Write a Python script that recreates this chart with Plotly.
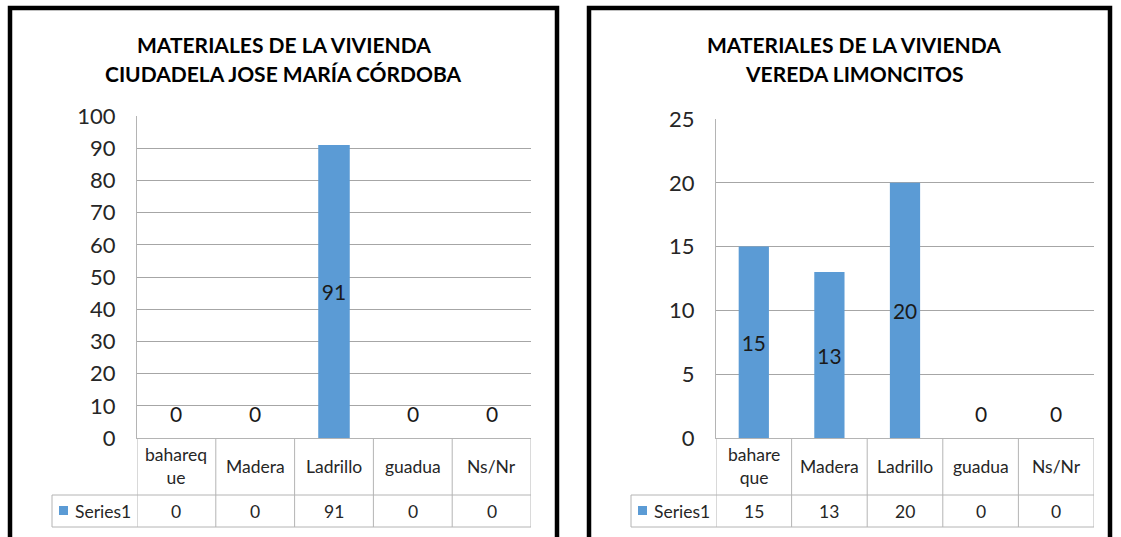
import plotly.graph_objects as go

W, H = 1121, 537

categorias = ["bahareque", "Madera", "Ladrillo", "guadua", "Ns/Nr"]
etiquetas_izq = ["bahareq<br>ue", "Madera", "Ladrillo", "guadua", "Ns/Nr"]
etiquetas_der = ["bahare<br>que", "Madera", "Ladrillo", "guadua", "Ns/Nr"]
valores_ciudadela = [0, 0, 91, 0, 0]
valores_limoncitos = [15, 13, 20, 0, 0]
titulo_izq = ["MATERIALES DE LA VIVIENDA", "CIUDADELA JOSE MARÍA CÓRDOBA"]
titulo_der = ["MATERIALES DE LA VIVIENDA", "VEREDA LIMONCITOS"]
serie = "Series1"

BLUE = "#5B9BD5"
GRID = "#a6a6a6"
TABLE = "#b4b4b4"
TXT = "#262626"
FONT = "Lato, 'Open Sans', sans-serif"


def px(x):
    return x / W


def py(y):
    return 1 - y / H


fig = go.Figure()
shapes, annots = [], []

paneles = [
    # values, tick labels, titles, axis suffix, frame, plot box, table left, ymax, dtick
    (valores_ciudadela, etiquetas_izq, titulo_izq, "", (10, 557), (137, 531, 116), 52, 100, 10),
    (valores_limoncitos, etiquetas_der, titulo_der, "2", (589, 1110), (716, 1094, 119), 631, 25, 5),
]

for vals, etiq, titulo, sfx, (fx0, fx1), (x0, x1, ytop), tleft, ymax, dt in paneles:
    xa, ya = "x" + sfx, "y" + sfx
    fig.add_trace(go.Bar(
        x=categorias, y=vals, xaxis=xa, yaxis=ya, width=0.4,
        marker=dict(color=BLUE, line=dict(width=0)),
        text=[str(v) if v else "" for v in vals],
        textposition="inside", insidetextanchor="middle",
        textfont=dict(family=FONT, size=21, color="#1a1a1a"),
        showlegend=False, cliponaxis=False,
    ))
    lay = {
        "xaxis" + sfx: dict(domain=[px(x0), px(x1)], anchor=ya, showticklabels=False,
                            showgrid=False, showline=True, linecolor=TABLE, linewidth=1,
                            zeroline=False, ticks="", range=[-0.5, 4.5], fixedrange=True),
        "yaxis" + sfx: dict(domain=[py(438), py(ytop)], anchor=xa, range=[0, ymax], dtick=dt,
                            showgrid=True, gridcolor=GRID, gridwidth=1, showline=True,
                            linecolor=TABLE, linewidth=1, zeroline=False, ticks="",
                            ticklabelstandoff=16,
                            tickfont=dict(family=FONT, size=22, color=TXT), automargin=False),
    }
    fig.update_layout(**lay)

    # frame
    shapes.append(dict(type="rect", xref="paper", yref="paper", x0=px(fx0), x1=px(fx1),
                       y0=py(8), y1=-0.2, line=dict(color="black", width=4.5)))
    # titles
    cx = (fx0 + fx1) / 2 if sfx == "" else 854
    for i, t in enumerate(titulo):
        annots.append(dict(text=f"<b>{t}</b>", xref="paper", yref="paper", x=px(cx), y=py(44 + 29 * i),
                           showarrow=False, xanchor="center", yanchor="middle",
                           font=dict(family=FONT, size=21, color="black")))

    # data table lines
    for k in range(6):
        shapes.append(dict(type="line", xref=xa, yref="paper", x0=k - 0.5, x1=k - 0.5,
                           y0=py(438), y1=py(527), line=dict(color=TABLE, width=1)))
    shapes.append(dict(type="line", xref="paper", yref="paper", x0=px(tleft), x1=px(x1),
                       y0=py(495), y1=py(495), line=dict(color=TABLE, width=1)))
    shapes.append(dict(type="line", xref="paper", yref="paper", x0=px(tleft), x1=px(x1),
                       y0=py(527), y1=py(527), line=dict(color=TABLE, width=1)))
    shapes.append(dict(type="line", xref="paper", yref="paper", x0=px(tleft), x1=px(tleft),
                       y0=py(495), y1=py(527), line=dict(color=TABLE, width=1)))
    # legend key
    shapes.append(dict(type="rect", xref="paper", yref="paper", x0=px(tleft + 7), x1=px(tleft + 16),
                       y0=py(515), y1=py(506), fillcolor=BLUE, line=dict(width=0)))
    annots.append(dict(text=serie, xref="paper", yref="paper", x=px(tleft + 21), y=py(511),
                       showarrow=False, xanchor="left", yanchor="middle",
                       font=dict(family=FONT, size=17.5, color=TXT)))

    for c, lab, v in zip(categorias, etiq, vals):
        annots.append(dict(text=lab, xref=xa, yref="paper", x=c, y=py(466), showarrow=False,
                           xanchor="center", yanchor="middle",
                           font=dict(family=FONT, size=17.5, color=TXT)))
        annots.append(dict(text=str(v), xref=xa, yref="paper", x=c, y=py(511), showarrow=False,
                           xanchor="center", yanchor="middle",
                           font=dict(family=FONT, size=17.5, color=TXT)))
        if v == 0:
            annots.append(dict(text="0", xref=xa, yref=ya, x=c, y=v, yshift=25, showarrow=False,
                               xanchor="center", yanchor="middle",
                               font=dict(family=FONT, size=21, color="#1a1a1a")))

fig.update_layout(
    width=W, height=H, margin=dict(l=0, r=0, t=0, b=0),
    paper_bgcolor="white", plot_bgcolor="white",
    shapes=shapes, annotations=annots, bargap=0.6,
)

fig.write_html("out.html", config={"displayModeBar": False},
               post_script="document.body.style.margin='0';")
